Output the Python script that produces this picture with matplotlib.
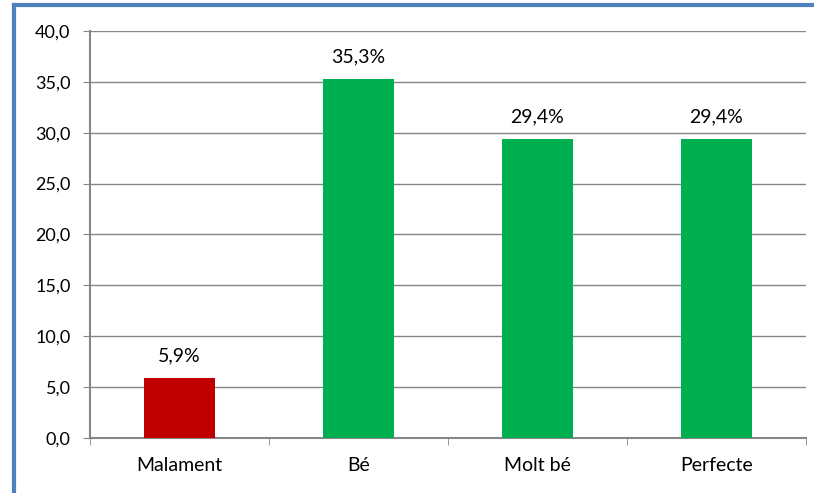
import matplotlib
matplotlib.use("Agg")
import matplotlib.pyplot as plt
from matplotlib.lines import Line2D

categories = ["Malament", "Bé", "Molt bé", "Perfecte"]
values = [5.9, 35.3, 29.4, 29.4]
colors = ["#C00000", "#00B050", "#00B050", "#00B050"]
yticks = [0, 5, 10, 15, 20, 25, 30, 35, 40]

plt.rcParams['font.family'] = ['Lato', 'DejaVu Sans']

fig = plt.figure(figsize=(8.14, 4.93), dpi=100)
ax = fig.add_axes([90/814, 1-438/493, (806-90)/814, (438-31)/493])

x = list(range(len(categories)))
ax.bar(x, values, width=0.4, color=colors, zorder=3)
for xi, v in zip(x, values):
    ax.text(xi, v + 1.6, ("%.1f%%" % v).replace(".", ","), ha="center", va="baseline",
            fontsize=14, color="black")

ax.set_xlim(-0.5, 3.5)
ax.set_ylim(0, 40)
ax.set_yticks(yticks)
ax.set_yticklabels([("%.1f" % t).replace(".", ",") for t in yticks], fontsize=13)
ax.set_xticks(x)
ax.set_xticklabels(categories, fontsize=14)
ax.tick_params(axis="x", length=0, pad=14)
ax.tick_params(axis="y", length=5, color="#868686", pad=9)
ax.set_xticks([-0.5, 0.5, 1.5, 2.5, 3.5], minor=True)
ax.tick_params(axis="x", which="minor", length=5, color="#868686")
ax.grid(axis="y", color="#868686", linewidth=1, zorder=0)
for s in ["top", "right"]:
    ax.spines[s].set_visible(False)
for s in ["left", "bottom"]:
    ax.spines[s].set_color("#868686")
    ax.spines[s].set_linewidth(1.5)

# blue chart frame (only top and left visible in the crop)
fig.add_artist(Line2D([14/814, 14/814], [0, 1-5/493], transform=fig.transFigure,
                      color="#4F81BD", linewidth=3))
fig.add_artist(Line2D([14/814, 1], [1-5/493, 1-5/493], transform=fig.transFigure,
                      color="#4F81BD", linewidth=3))

fig.savefig("out.png", dpi=100)
